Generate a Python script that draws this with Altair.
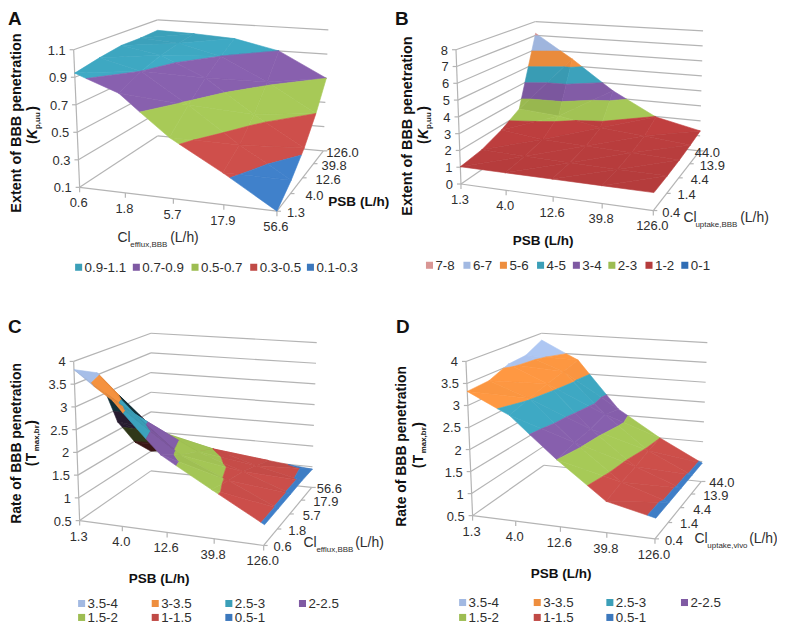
import altair as alt
import numpy as np
import pandas as pd

# ---------- values ----------
psb = ["1.3", "4.0", "12.6", "39.8", "126.0"]
cl_eff = ["0.6", "1.8", "5.7", "17.9", "56.6"]
cl_upt = ["0.4", "1.4", "4.4", "13.9", "44.0"]

# rows: front to back (depth axis); columns: left to right (front axis)
za = [[.93, .82, .54, .33, .10],
      [.97, .90, .68, .42, .20],
      [1.0, .95, .80, .55, .33],
      [1.0, .98, .90, .72, .50],
      [1.01, 1.0, .98, .90, .70]]
zb = [[1.03, 1.03, 1.03, 1.03, 1.03],
      [1.23, 1.15, 1.1, 1.05, 1.05],
      [1.7, 1.4, 1.3, 1.2, 1.1],
      [2.4, 2.2, 1.7, 1.47, 1.2],
      [7.16, 5.5, 3.5, 1.97, 1.33]]
zc = [[3.82, 3.25, 2.2, 1.58, .96],
      [3.55, 2.7, 1.9, 1.45, .96],
      [2.2, 2.1, 1.7, 1.35, .96],
      [1.47, 1.55, 1.5, 1.2, .96],
      [1.0, 1.15, 1.1, 1.05, .94]]
zd = [[3.32, 2.88, 2.0, 1.2, .96],
      [3.35, 3.02, 2.1, 1.3, .96],
      [3.55, 3.15, 2.15, 1.35, .96],
      [3.59, 3.25, 2.25, 1.45, .96],
      [3.82, 3.35, 2.15, 1.5, .96]]

TEAL, PURPLE, GREEN, RED, BLUE = "#3b9fb8", "#7f5aa3", "#9dbd52", "#c04a46", "#3c78bd"
ORANGE, LBLUE, PINK, DRED = "#ee8e3e", "#a2b9e2", "#d99694", "#b53c3c"

bands_a = [("0.9-1.1", .9, 1.1, TEAL), ("0.7-0.9", .7, .9, PURPLE), ("0.5-0.7", .5, .7, GREEN),
           ("0.3-0.5", .3, .5, RED), ("0.1-0.3", .1, .3, BLUE)]
bands_b = [("7-8", 7, 8, PINK), ("6-7", 6, 7, LBLUE), ("5-6", 5, 6, ORANGE), ("4-5", 4, 5, TEAL),
           ("3-4", 3, 4, PURPLE), ("2-3", 2, 3, GREEN), ("1-2", 1, 2, DRED), ("0-1", 0, 1, "#2f6db5")]
bands_c = [("3.5-4", 3.5, 4, LBLUE), ("3-3.5", 3, 3.5, ORANGE), ("2.5-3", 2.5, 3, TEAL), ("2-2.5", 2, 2.5, PURPLE),
           ("1.5-2", 1.5, 2, GREEN), ("1-1.5", 1, 1.5, RED), ("0.5-1", .5, 1, BLUE)]

# ---------- layout (picture pixels) ----------
def z3(pts, dx=0, dy=0):
    return [(p[0] / 3 + dx, p[1] / 3 + dy) for p in pts]

panels = [
    dict(z=za, xl=cl_eff, yl=psb, bands=bands_a, zmin=.1, zmax=1.1, yoff=[10, 15, 13, 8, 3], dark_col=False,
         zl=["0.1", "0.3", "0.5", "0.7", "0.9", "1.1"],
         floor=z3([(240, 560), (835, 632), (975, 450), (475, 405)]),
         top=z3([(222, 145), (855, 215), (990, 85), (475, 55)]),
         leg=[(79, 267), (137, 267), (196, 267), (255, 267), (312, 267)]),
    dict(z=zb, xl=psb, yl=cl_upt, bands=bands_b, zmin=0, zmax=8, yoff=[9, 11, 12, 10, -5], dark_col=False,
         zl=[str(i) for i in range(9)],
         floor=z3([(220, 550), (800, 630), (940, 450), (445, 395)], 390),
         top=z3([(205, 145), (815, 210), (950, 88), (445, 60)], 390),
         leg=[(x / 3 + 390, 265) for x in (125, 238, 348, 460, 568, 675, 787, 895)]),
    dict(z=zc, xl=psb, yl=cl_eff, bands=bands_c, zmin=.5, zmax=4, yoff=[10, 11, 13, 12, 5], dark_col=True,
         zl=["0.5", "1", "1.5", "2", "2.5", "3", "3.5", "4"],
         floor=z3([(240, 635), (795, 710), (940, 535), (455, 485)], 0, 310),
         top=z3([(222, 155), (815, 235), (955, 98), (455, 70)], 0, 310),
         leg=[(82, 605), (156, 605), (230, 605), (304, 605), (82, 619), (156, 619), (230, 619)]),
    dict(z=zd, xl=psb, yl=cl_upt, bands=bands_c, zmin=.5, zmax=4, yoff=[10, 12, 13, 12, 8], dark_col=False,
         zl=["0.5", "1", "1.5", "2", "2.5", "3", "3.5", "4"],
         floor=z3([(255, 620), (805, 690), (945, 517), (470, 468)], 390, 310),
         top=z3([(235, 155), (825, 215), (963, 98), (463, 70)], 390, 310),
         leg=[(465, 604), (540, 604), (613, 604), (688, 604), (465, 619), (540, 619), (613, 619)]),
]

def homography(q):
    src = [(0, 0), (1, 0), (1, 1), (0, 1)]
    A, b = [], []
    for (u, v), (x, y) in zip(src, q):
        A.append([u, v, 1, 0, 0, 0, -u * x, -v * x]); b.append(x)
        A.append([0, 0, 0, u, v, 1, -u * y, -v * y]); b.append(y)
    h = np.linalg.solve(np.array(A, float), np.array(b, float))
    return np.append(h, 1).reshape(3, 3)

def mapper(p):
    hf, ht = homography(p["floor"]), homography(p["top"])
    def ap(h, u, v):
        r = h @ np.array([u, v, 1.0])
        return r[:2] / r[2]
    def P(u, v, w):
        return ap(hf, u, v) * (1 - w) + ap(ht, u, v) * w
    return P

def clip(poly, level, keep_above):
    out = []
    for k in range(len(poly)):
        a, b = poly[k], poly[(k + 1) % len(poly)]
        ia = a[2] >= level if keep_above else a[2] <= level
        ib = b[2] >= level if keep_above else b[2] <= level
        if ia:
            out.append(a)
        if ia != ib:
            t = (level - a[2]) / (b[2] - a[2])
            out.append((a[0] + t * (b[0] - a[0]), a[1] + t * (b[1] - a[1]), level))
    return out

def shade(hexc, f):
    r = [int(hexc[i:i + 2], 16) for i in (1, 3, 5)]
    return "#" + "".join(f"{int(min(255, max(0, c * f))):02x}" for c in r)

features, rules, ticks_text, squares = [], [], [], []

for p in panels:
    P = mapper(p)
    Z = np.array(p["z"], float)
    n = Z.shape[0] - 1
    rng = p["zmax"] - p["zmin"]
    # walls
    nz = len(p["zl"])
    for k in range(nz):
        w = k / (nz - 1)
        a, b, c = P(0, 0, w), P(0, 1, w), P(1, 1, w)
        rules.append((*a, *b)); rules.append((*b, *c))
        rules.append((a[0] - 4, a[1], *a))
        ticks_text.append((a[0] - 8, a[1] + 1, p["zl"][k], "right"))
    a, b = P(0, 0, 0), P(0, 0, 1)
    rules.append((*a, *b))
    a, b, c = P(0, 0, 0), P(1, 0, 0), P(1, 1, 0)
    rules.append((*a, *b)); rules.append((*b, *c))
    for k in range(n + 1):
        t = P(k / n, 0, 0)
        rules.append((*t, t[0], t[1] + 5))
        ticks_text.append((t[0] - 1, t[1] + 16, p["xl"][k], "center"))
        t = P(1, k / n, 0)
        rules.append((*t, t[0] + 4, t[1]))
        ticks_text.append((t[0] + p["yoff"][k], t[1] + 2, p["yl"][k], "left"))
    # surface, far cells first; the dark underside of panel C goes beneath the rest
    dark_feats, lit_feats = [], []
    for j in range(n - 1, -1, -1):
        for i in range(n):
            c = [(i / n, j / n, Z[j, i]), (i / n + 1 / n, j / n, Z[j, i + 1]),
                 (i / n + 1 / n, j / n + 1 / n, Z[j + 1, i + 1]), (i / n, j / n + 1 / n, Z[j + 1, i])]
            for ti, tri in enumerate(([c[0], c[2], c[3]], [c[0], c[1], c[2]])):
                v1 = np.array([tri[1][0] - tri[0][0], tri[1][1] - tri[0][1], (tri[1][2] - tri[0][2]) / rng])
                v2 = np.array([tri[2][0] - tri[0][0], tri[2][1] - tri[0][1], (tri[2][2] - tri[0][2]) / rng])
                nrm = np.cross(v1, v2)
                nrm = nrm / np.linalg.norm(nrm) * np.sign(nrm[2])
                f0 = 0.73 + 0.35 * float(nrm @ np.array([.55, -.3, .78]))
                flank = p["dark_col"] and i == 0
                for name, lo, hi, col in p["bands"]:
                    poly = clip(list(tri), lo, True)
                    if len(poly) >= 3:
                        poly = clip(poly, hi, False)
                    if len(poly) < 3:
                        continue
                    is_dark = flank and j >= 1 and lo < 3
                    f = 0.30 if is_dark else f0
                    ring = [P(q[0], q[1], (q[2] - p["zmin"]) / rng).tolist() for q in poly]
                    ring.append(ring[0])
                    (dark_feats if is_dark else lit_feats).append(
                        {"type": "Feature",
                         "geometry": {"type": "Polygon", "coordinates": [ring]},
                         "properties": {"fill": shade(col, f)}})
    features += dark_feats + lit_feats
    for (x, y), (name, lo, hi, col) in zip(p["leg"], p["bands"]):
        squares.append((x, y, col, name))

# ---------- free text ----------
FONT = "Liberation Sans"
INK = "#2e2e2e"
texts = []  # x, y, text, size, weight, style, angle, align, baseline

def T(x, y, s, size=14, weight="normal", style="normal", angle=0, align="left", base="alphabetic"):
    texts.append(dict(x=x, y=y, t=s, size=size, weight=weight, style=style, angle=angle, align=align, base=base))

for s, x, y in (("A", 8, 23), ("B", 397, 23), ("C", 8, 333), ("D", 398, 333)):
    T(x, y, s, size=19, weight="bold")

def ytitle(x, yc, s, size, xc2, ybot, sym, sub, italic):
    T(x, yc, s, weight="bold", angle=270, align="center", base="middle", size=size)
    w = xc2 + 5
    T(w, ybot, "(", weight="bold", angle=270, size=14)
    T(w, ybot - 5, sym, weight="bold", style="italic" if italic else "normal", angle=270, size=14)
    T(w + 3, ybot - 15, sub, weight="bold", angle=270, size=8)
    T(w, ybot - 15 - 4.3 * len(sub) - 1, ")", weight="bold", angle=270, size=14)

ytitle(17, 122, "Extent of BBB penetration", 14.5, 32, 143, "K", "p,uu", True)
ytitle(410, 125, "Extent of BBB penetration", 14.5, 425, 143, "K", "p,uu", True)
ytitle(17, 444, "Rate of BBB penetration", 14, 31, 467, "T", "max,br", False)
ytitle(404, 447, "Rate of BBB penetration", 14, 420, 469, "T", "max,br", False)

def cl(x, y, sub, x2, x3):
    T(x, y, "Cl")
    T(x2, y + 5, sub, size=8)
    T(x3, y, "(L/h)")

cl(118, 242, "efflux,BBB", 131, 171)
cl(687, 222, "uptake,BBB", 699, 744)
cl(305, 548, "efflux,BBB", 318, 357)
cl(698, 544, "uptake,vivo", 711, 753)

T(330, 205, "PSB (L/h)", weight="bold", size=13.6)
T(546, 245, "PSB (L/h)", weight="bold", size=13.6, align="center")
T(160, 584, "PSB (L/h)", weight="bold", size=13.6, align="center")
T(564, 579, "PSB (L/h)", weight="bold", size=13.6, align="center")

for x, y, s, al in ticks_text:
    T(x, y, s, align=al, base="middle", size=13)
for x, y, col, name in squares:
    T(x + 6, y + 0.5, name, base="middle", size=13.4)

# ---------- chart ----------
X = alt.X("x:Q", scale=alt.Scale(domain=[8, 781]), axis=None)
Y = alt.Y("y:Q", scale=alt.Scale(domain=[626, 8]), axis=None)

df_r = pd.DataFrame(rules, columns=["x", "y", "x2", "y2"])
wall = alt.Chart(df_r).mark_rule(color="#b4b4b4", strokeWidth=1.2).encode(x=X, y=Y, x2="x2:Q", y2="y2:Q")

surface = alt.Chart(alt.Data(values=features)).mark_geoshape(strokeWidth=0.6).encode(
    fill=alt.Fill("properties.fill:N", scale=None),
    stroke=alt.Stroke("properties.fill:N", scale=None),
).project(type="identity", scale=1, translate=[-8, -8])

df_s = pd.DataFrame(squares, columns=["x", "y", "col", "name"])
swatch = alt.Chart(df_s).mark_square(size=50, opacity=1, filled=True).encode(
    x=X, y=Y, color=alt.Color("col:N", scale=None))

layers = [wall, surface, swatch]
df_t = pd.DataFrame(texts)
for key, g in df_t.groupby(["size", "weight", "style", "angle", "align", "base"]):
    size, weight, style, angle, align, base = key
    layers.append(alt.Chart(g[["x", "y", "t"]]).mark_text(
        font=FONT, fontSize=float(size), fontWeight=weight, fontStyle=style, angle=float(angle),
        align=align, baseline=base, color="#111111" if weight == "bold" else INK
    ).encode(x=X, y=Y, text="t:N"))

chart = alt.layer(*layers).properties(width=773, height=618, padding=0, background="white",
                                      autosize=alt.AutoSizeParams(type="none")).configure_view(stroke=None)
chart.save("out.html", embed_options={"renderer": "svg", "actions": False})
